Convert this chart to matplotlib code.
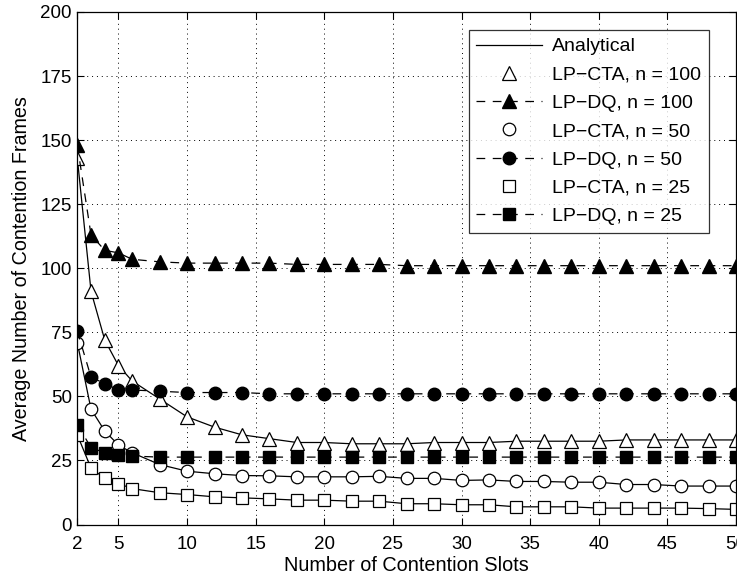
import numpy as np
import matplotlib
matplotlib.use('Agg')
import matplotlib.pyplot as plt

plt.rcParams['font.family'] = ['Liberation Sans', 'DejaVu Sans']

# contention slots
slots = [2, 3, 4, 5, 6, 8, 10, 12, 14, 16, 18, 20, 22, 24, 26, 28, 30,
         32, 34, 36, 38, 40, 42, 44, 46, 48, 50]

# LP-CTA (and analytical curve through it)
cta_100 = [143, 91, 72, 62, 56, 49, 42, 38, 35, 33.5, 32, 32, 31.5, 31.5, 31.5,
           32, 32, 32, 32.5, 32.5, 32.5, 32.5, 33, 33, 33, 33, 33]
cta_50 = [71, 45, 36.5, 31, 28, 23.4, 20.8, 19.8, 19.1, 19, 18.6, 18.6, 18.6, 18.8,
          18, 18, 17.2, 17.4, 16.8, 16.8, 16.5, 16.5, 15.6, 15.6, 15, 15, 15]
cta_25 = [35, 22, 18, 16, 14, 12.4, 11.7, 10.8, 10.4, 10, 9.5, 9.5, 9.1, 9.1, 8.1,
          8.1, 7.7, 7.7, 6.9, 6.9, 6.9, 6.4, 6.4, 6.4, 6.4, 6.2, 5.9]

# LP-DQ
dq_100 = [148, 113, 107, 106, 103.5, 102.5, 102, 102, 102, 102, 101.5, 101.5, 101.5,
          101.5, 101, 101, 101, 101, 101, 101, 101, 101, 101, 101, 101, 101, 101]
dq_50 = [75.5, 57.5, 55, 52.5, 52.5, 52, 51.5, 51.5, 51.5, 51, 51, 51, 51, 51, 51,
         51, 51, 51, 51, 51, 51, 51, 51, 51, 51, 51, 51]
dq_25 = [39, 30, 28, 27.3, 26.7, 26.3, 26.3, 26.3, 26.3, 26.3, 26.3, 26.3, 26.3, 26.3,
         26.3, 26.3, 26.3, 26.3, 26.3, 26.3, 26.3, 26.3, 26.3, 26.3, 26.3, 26.3, 26.3]

fs = 13.5

fig = plt.figure(figsize=(7.37, 5.79), dpi=100)
ax = fig.add_axes([77.3 / 737, 1 - 524.5 / 579, (736 - 77.3) / 737, (524.5 - 12) / 579])

dash = (7, 6)
lw = 0.9

# analytical curves
ax.plot(slots, cta_100, 'k-', lw=lw, label='Analytical')
ax.plot(slots, cta_50, 'k-', lw=lw)
ax.plot(slots, cta_25, 'k-', lw=lw)

ax.plot(slots, cta_100, linestyle='none', marker='^', ms=10.5, mfc='white', mec='k',
        mew=0.9, label='LP\u2212CTA, n = 100')
ax.plot(slots, dq_100, 'k--', dashes=dash, lw=lw, marker='^', ms=10.5, mfc='k',
        mec='k', label='LP\u2212DQ, n = 100')
ax.plot(slots, cta_50, linestyle='none', marker='o', ms=9, mfc='white', mec='k',
        mew=0.9, label='LP\u2212CTA, n = 50')
ax.plot(slots, dq_50, 'k--', dashes=dash, lw=lw, marker='o', ms=9, mfc='k',
        mec='k', label='LP\u2212DQ, n = 50')
ax.plot(slots, cta_25, linestyle='none', marker='s', ms=8.5, mfc='white', mec='k',
        mew=0.9, label='LP\u2212CTA, n = 25')
ax.plot(slots, dq_25, 'k--', dashes=dash, lw=lw, marker='s', ms=8.5, mfc='k',
        mec='k', label='LP\u2212DQ, n = 25')

ax.set_xlim(2, 50)
ax.set_ylim(0, 200)
ax.set_xticks([2, 5, 10, 15, 20, 25, 30, 35, 40, 45, 50])
ax.set_yticks(np.arange(0, 201, 25))
ax.tick_params(direction='in', top=True, right=True, labelsize=fs, length=5)
ax.tick_params(axis='x', pad=8.5)
ax.tick_params(axis='y', pad=4)
ax.grid(True, linestyle=(0, (1, 4)), color='k', lw=0.7)
for s in ax.spines.values():
    s.set_linewidth(0.9)

ax.set_xlabel('Number of Contention Slots', fontsize=14.3, labelpad=2)
ax.set_ylabel('Average Number of Contention Frames', fontsize=14.2, labelpad=7)

leg = ax.legend(loc='upper right', bbox_to_anchor=(0.959, 0.965), fontsize=14,
                frameon=True, fancybox=False, edgecolor='k', handlelength=3.4,
                borderpad=0.4, labelspacing=0.55, handletextpad=0.5,
                borderaxespad=0)
leg.get_frame().set_linewidth(0.9)

fig.savefig('out.png', dpi=100)
